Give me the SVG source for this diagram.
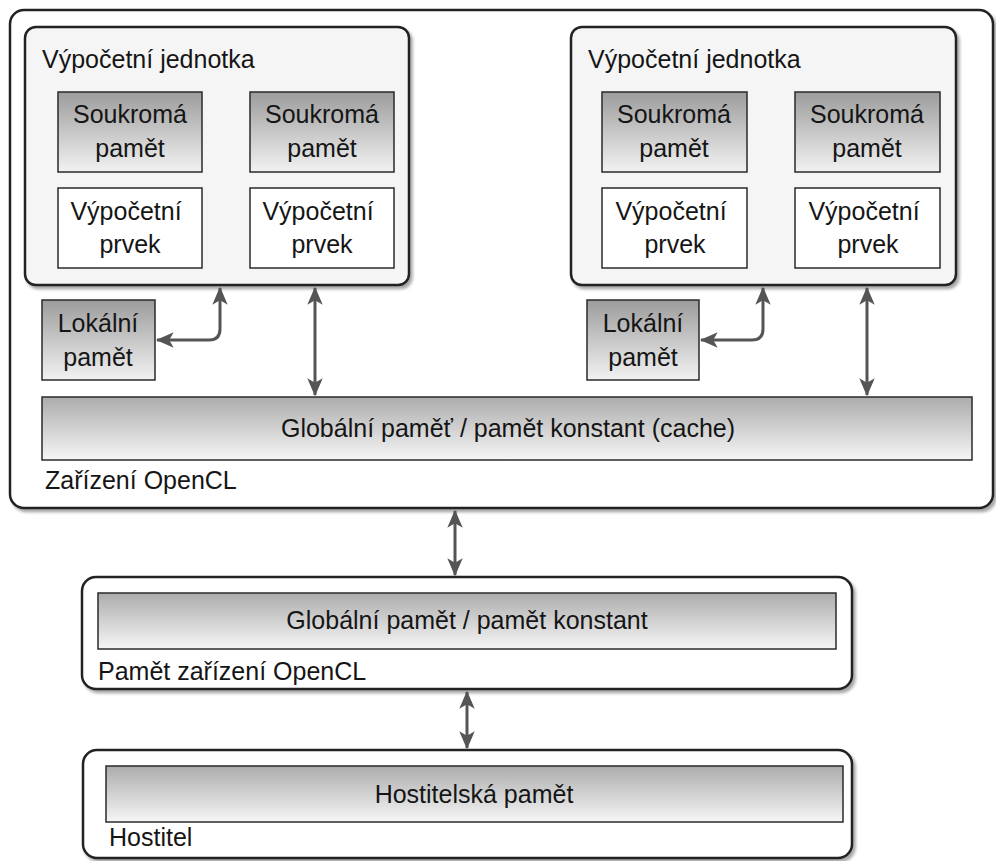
<svg xmlns="http://www.w3.org/2000/svg" width="996" height="861" viewBox="0 0 996 861">
  <defs>
    <linearGradient id="memGrad" x1="0" y1="0" x2="0" y2="1">
      <stop offset="0" stop-color="#9c9c9c"/>
      <stop offset="1" stop-color="#f2f2f2"/>
    </linearGradient>
    <linearGradient id="barGrad" x1="0" y1="0" x2="0" y2="1">
      <stop offset="0" stop-color="#acacac"/>
      <stop offset="1" stop-color="#f6f6f6"/>
    </linearGradient>
    <filter id="shadow" x="-5%" y="-5%" width="110%" height="115%">
      <feDropShadow dx="2.5" dy="3" stdDeviation="1.8" flood-color="#000" flood-opacity="0.35"/>
    </filter>
    <marker id="arrow" viewBox="0 0 14 14" markerUnits="userSpaceOnUse" markerWidth="18" markerHeight="18" refX="13" refY="7" orient="auto-start-reverse">
      <path d="M0,1 L14,7 L0,13 L3.5,7 z" fill="#555"/>
    </marker>
  </defs>
  <style>
    text { font-family: "Liberation Sans", Arial, sans-serif; font-size: 25px; fill: #151515; }
    .mid { text-anchor: middle; }
    .container { fill: #ffffff; stroke: #222; stroke-width: 2.5; filter: url(#shadow); }
    .unit { fill: #f5f5f5; stroke: #222; stroke-width: 2.5; filter: url(#shadow); }
    .mem { fill: url(#memGrad); stroke: #2a2a2a; stroke-width: 1.5; }
    .bar { fill: url(#barGrad); stroke: #2a2a2a; stroke-width: 1.5; }
    .pe { fill: #ffffff; stroke: #2a2a2a; stroke-width: 1.5; }
    .link { fill: none; stroke: #555; stroke-width: 3; marker-start: url(#arrow); marker-end: url(#arrow); }
  </style>

  <!-- OpenCL device -->
  <g id="device">
    <rect class="container" x="10" y="10" width="983" height="498" rx="14"/>
    <text x="45" y="489">Zařízení OpenCL</text>
  </g>

  <!-- Compute unit 1 -->
  <g id="unit1">
    <rect class="unit" x="25" y="27" width="384" height="258" rx="11"/>
    <text x="42" y="68">Výpočetní jednotka</text>
  </g>
  <g id="private1a">
    <rect class="mem" x="58" y="92" width="144" height="80"/>
    <text class="mid" x="130" y="123">Soukromá</text>
    <text class="mid" x="130" y="157">pamět</text>
  </g>
  <g id="private1b">
    <rect class="mem" x="250" y="92" width="144" height="80"/>
    <text class="mid" x="322" y="123">Soukromá</text>
    <text class="mid" x="322" y="157">pamět</text>
  </g>
  <g id="pe1a">
    <rect class="pe" x="58" y="188" width="144" height="80"/>
    <text class="mid" x="126" y="220">Výpočetní</text>
    <text class="mid" x="130" y="253">prvek</text>
  </g>
  <g id="pe1b">
    <rect class="pe" x="250" y="188" width="144" height="80"/>
    <text class="mid" x="318" y="220">Výpočetní</text>
    <text class="mid" x="322" y="253">prvek</text>
  </g>
  <g id="local1">
    <rect class="mem" x="42" y="300" width="113" height="80"/>
    <text class="mid" x="98" y="332">Lokální</text>
    <text class="mid" x="98" y="366">pamět</text>
  </g>

  <!-- Compute unit 2 -->
  <g id="unit2">
    <rect class="unit" x="571" y="27" width="385" height="258" rx="11"/>
    <text x="588" y="68">Výpočetní jednotka</text>
  </g>
  <g id="private2a">
    <rect class="mem" x="602" y="92" width="145" height="80"/>
    <text class="mid" x="674" y="123">Soukromá</text>
    <text class="mid" x="674" y="157">pamět</text>
  </g>
  <g id="private2b">
    <rect class="mem" x="795" y="92" width="145" height="80"/>
    <text class="mid" x="867" y="123">Soukromá</text>
    <text class="mid" x="867" y="157">pamět</text>
  </g>
  <g id="pe2a">
    <rect class="pe" x="602" y="188" width="145" height="80"/>
    <text class="mid" x="671" y="220">Výpočetní</text>
    <text class="mid" x="675" y="253">prvek</text>
  </g>
  <g id="pe2b">
    <rect class="pe" x="795" y="188" width="145" height="80"/>
    <text class="mid" x="864" y="220">Výpočetní</text>
    <text class="mid" x="868" y="253">prvek</text>
  </g>
  <g id="local2">
    <rect class="mem" x="587" y="300" width="112" height="80"/>
    <text class="mid" x="643" y="332">Lokální</text>
    <text class="mid" x="643" y="366">pamět</text>
  </g>

  <!-- Global / constant memory cache -->
  <g id="globalCache">
    <rect class="bar" x="42" y="397" width="930" height="63"/>
    <text class="mid" x="508" y="437">Globální paměť / pamět konstant (cache)</text>
  </g>

  <!-- OpenCL device memory -->
  <g id="deviceMemory">
    <rect class="container" x="82" y="577" width="770" height="112" rx="14"/>
    <rect class="bar" x="98" y="593" width="738" height="56"/>
    <text class="mid" x="467" y="629">Globální pamět / pamět konstant</text>
    <text x="98" y="680">Pamět zařízení OpenCL</text>
  </g>

  <!-- Host -->
  <g id="host">
    <rect class="container" x="83" y="750" width="769" height="108" rx="14"/>
    <rect class="bar" x="106" y="766" width="737" height="56"/>
    <text class="mid" x="474" y="803">Hostitelská pamět</text>
    <text x="109" y="846">Hostitel</text>
  </g>

  <!-- Connectors -->
  <g id="connectors">
    <path class="link" d="M157,340 H209 Q220,340 220,329 V288"/>
    <path class="link" d="M315,288 V395"/>
    <path class="link" d="M701,340 H752 Q763,340 763,329 V288"/>
    <path class="link" d="M867,288 V395"/>
    <path class="link" d="M455,511 V575"/>
    <path class="link" d="M467,692 V748"/>
  </g>
</svg>
